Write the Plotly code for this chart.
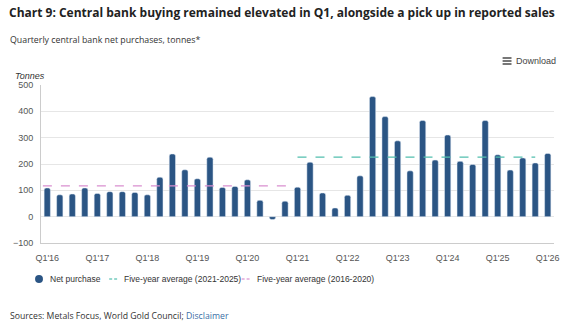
import plotly.graph_objects as go

quarters = ["Q1'16","Q2'16","Q3'16","Q4'16","Q1'17","Q2'17","Q3'17","Q4'17",
            "Q1'18","Q2'18","Q3'18","Q4'18","Q1'19","Q2'19","Q3'19","Q4'19",
            "Q1'20","Q2'20","Q3'20","Q4'20","Q1'21","Q2'21","Q3'21","Q4'21",
            "Q1'22","Q2'22","Q3'22","Q4'22","Q1'23","Q2'23","Q3'23","Q4'23",
            "Q1'24","Q2'24","Q3'24","Q4'24","Q1'25","Q2'25","Q3'25","Q4'25","Q1'26"]
net_purchase = [109, 83, 86, 109, 88, 95, 95, 92,
                 83, 150, 238, 178, 144, 226, 111, 115,
                 140, 62, -11, 59, 112, 207, 90, 33,
                 81, 155, 456, 380, 288, 174, 365, 215,
                 310, 210, 198, 365, 235, 177, 223, 204, 240]
avg_2021_2025 = 226
avg_2016_2020 = 117
tick_labels = ["Q1'16","Q1'17","Q1'18","Q1'19","Q1'20","Q1'21","Q1'22","Q1'23","Q1'24","Q1'25","Q1'26"]

W, H = 571, 326
L, R, T, B = 41, 560, 85, 243

def px(x):
    return (x - L) / (R - L)

def py(y):
    return (B - y) / (B - T)

xs = list(range(len(quarters)))
BAR = "#2b5584"
TEAL = "#52bfae"
PINK = "#d98fcf"

fig = go.Figure()
fig.add_trace(go.Bar(x=xs, y=net_purchase, marker=dict(color=BAR, cornerradius=2),
                     width=0.5, name="Net purchase", showlegend=False))
i21 = quarters.index("Q1'21"); i25 = quarters.index("Q4'25")
fig.add_trace(go.Scatter(x=[i21, i25], y=[avg_2021_2025]*2, mode="lines",
                         line=dict(color=TEAL, dash="dash", width=1.2), showlegend=False))
i16 = quarters.index("Q1'16"); i20 = quarters.index("Q4'20")
fig.add_trace(go.Scatter(x=[i16 - 0.35, i20 + 0.15], y=[avg_2016_2020]*2, mode="lines",
                         line=dict(color=PINK, dash="dash", width=1.2), showlegend=False))

tickvals = [quarters.index(t) for t in tick_labels]
fig.update_xaxes(range=[-0.5, len(quarters) - 0.5], tickvals=tickvals, ticktext=tick_labels,
                 showgrid=False, showline=True, linecolor="#cccccc", linewidth=1,
                 ticks="", ticklabelstandoff=6,
                 tickfont=dict(family="Liberation Sans, Arial", size=9, color="#555"),
                 fixedrange=True, zeroline=False)
fig.update_yaxes(range=[-100, 500], dtick=100, showgrid=True, gridcolor="#e6e6e6",
                 showline=True, linecolor="#cccccc", linewidth=1, zeroline=False,
                 ticklabelstandoff=5,
                 tickfont=dict(family="Liberation Sans, Arial", size=9, color="#555"),
                 ticks="", fixedrange=True)

ann = []
shapes = []
OS = "Open Sans, Noto Sans, sans-serif"
ann.append(dict(text="<b>Chart 9: Central bank buying remained elevated in Q1, alongside a pick up in reported sales</b>",
                x=px(7), y=py(12), xanchor="left", yanchor="middle",
                font=dict(family=OS, size=12, color="#222")))
ann.append(dict(text="Quarterly central bank net purchases, tonnes*", x=px(8), y=py(40),
                xanchor="left", yanchor="middle", font=dict(family=OS, size=8.8, color="#333")))
ann.append(dict(text="<i>Tonnes</i>", x=px(13), y=py(76), xanchor="left", yanchor="middle",
                font=dict(family="Liberation Sans, Arial", size=9, color="#333")))
ann.append(dict(text="Download", x=px(520), y=py(61), xanchor="left", yanchor="middle",
                font=dict(family="Liberation Sans, Arial", size=9, color="#444")))
for yy in (58, 61, 64):
    shapes.append(dict(type="line", xref="paper", yref="paper", x0=px(508), x1=px(517),
                       y0=py(yy), y1=py(yy), line=dict(color="#555", width=1.6)))
# legend
shapes.append(dict(type="circle", xref="paper", yref="paper", x0=px(35), x1=px(43),
                   y0=py(283), y1=py(275), fillcolor=BAR, line=dict(width=0)))
ann.append(dict(text="Net purchase", x=px(48), y=py(279), xanchor="left", yanchor="middle",
                font=dict(family="Liberation Sans, Arial", size=8.5, color="#333")))
for x0 in (110, 115):
    shapes.append(dict(type="line", xref="paper", yref="paper", x0=px(x0), x1=px(x0 + 3),
                       y0=py(279), y1=py(279), line=dict(color=TEAL, width=1.2)))
ann.append(dict(text="Five-year average (2021-2025)", x=px(123), y=py(279), xanchor="left", yanchor="middle",
                font=dict(family="Liberation Sans, Arial", size=8.5, color="#333")))
for x0 in (244, 249):
    shapes.append(dict(type="line", xref="paper", yref="paper", x0=px(x0), x1=px(x0 + 3),
                       y0=py(279), y1=py(279), line=dict(color=PINK, width=1.2)))
ann.append(dict(text="Five-year average (2016-2020)", x=px(257), y=py(279), xanchor="left", yanchor="middle",
                font=dict(family="Liberation Sans, Arial", size=8.5, color="#333")))
ann.append(dict(text="Sources: Metals Focus, World Gold Council; <span style='color:#3a6ea5'>Disclaimer</span>",
                x=px(8), y=py(316), xanchor="left", yanchor="middle",
                font=dict(family=OS, size=8.7, color="#333")))
for a in ann:
    a.update(xref="paper", yref="paper", showarrow=False)

fig.update_layout(width=W, height=H, margin=dict(l=L, r=W - R, t=T, b=H - B, pad=0),
                  paper_bgcolor="white", plot_bgcolor="white", bargap=0.5,
                  annotations=ann, shapes=shapes, showlegend=False)
fig.write_html("out.html", config={"displayModeBar": False})
